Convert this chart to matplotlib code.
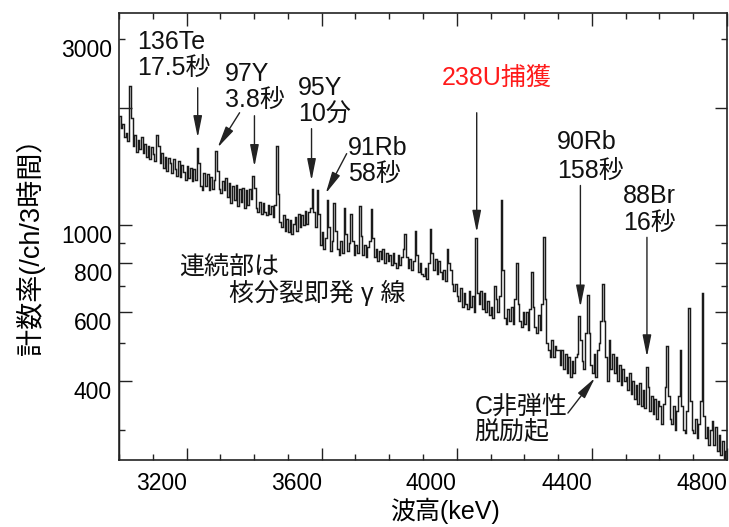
import numpy as np
import matplotlib.pyplot as plt
from matplotlib import ticker

plt.rcParams['font.family'] = ['Liberation Sans', 'Noto Sans CJK JP']

# counts per 5 keV channel, 3000 - 4800 keV
counts = [
    1900, 1780, 1820, 1680, 1720, 1640, 2270, 1880, 1600, 1700, 1540, 1650, 1570, 1680, 1530, 1620, 1500, 1600, 1480, 1590,
    1520, 1460, 1700, 1600, 1440, 1530, 1400, 1500, 1380, 1490, 1440, 1360, 1480, 1390, 1340, 1460, 1330, 1430, 1370, 1310,
    1420, 1320, 1400, 1300, 1390, 1310, 1580, 1440, 1260, 1230, 1360, 1260, 1350, 1230, 1330, 1240, 1310, 1550, 1380, 1240,
    1210, 1300, 1230, 1320, 1180, 1280, 1140, 1260, 1160, 1270, 1120, 1240, 1150, 1250, 1110, 1230, 1130, 1240, 1170, 1340,
    1250, 1110, 1080, 1150, 1070, 1140, 1080, 1060, 1130, 1070, 1120, 1050, 1130, 1600, 1200, 1020, 990, 1060, 970, 1040,
    960, 1030, 950, 1010, 1050, 970, 1070, 990, 1060, 1000, 1090, 1010, 1080, 1110, 1240, 1080, 990, 1230, 1070, 890,
    960, 870, 930, 1160, 990, 860, 910, 1140, 970, 870, 840, 910, 850, 1110, 950, 860, 900, 1070, 910, 840,
    890, 850, 1120, 940, 840, 890, 830, 880, 910, 1100, 930, 830, 870, 810, 860, 820, 870, 800, 850, 810,
    840, 790, 850, 800, 780, 840, 790, 830, 870, 950, 830, 780, 820, 770, 810, 970, 840, 760, 800, 750,
    740, 780, 730, 800, 980, 850, 770, 820, 750, 810, 760, 730, 770, 720, 870, 800, 770, 710, 680, 710,
    660, 640, 690, 620, 670, 630, 610, 680, 620, 660, 600, 926, 670, 630, 680, 610, 670, 600, 640, 590,
    620, 580, 700, 650, 600, 660, 1158, 770, 580, 560, 610, 570, 620, 560, 650, 800, 630, 570, 550, 600,
    560, 600, 540, 610, 760, 620, 550, 530, 590, 540, 630, 932, 650, 500, 480, 460, 510, 460, 490, 480,
    480, 440, 480, 430, 470, 420, 460, 410, 450, 420, 460, 470, 585, 510, 450, 430, 530, 662, 530, 440,
    420, 470, 410, 480, 500, 570, 707, 570, 460, 400, 510, 430, 470, 420, 460, 400, 440, 390, 430, 400,
    410, 380, 420, 370, 400, 360, 390, 350, 395, 345, 380, 340, 434, 385, 335, 365, 330, 360, 320, 355,
    345, 310, 350, 385, 490, 365, 320, 310, 345, 300, 335, 365, 480, 345, 300, 295, 335, 614, 355, 300,
    295, 320, 285, 310, 355, 670, 325, 285, 305, 275, 300, 315, 275, 305, 265, 290, 258, 280, 253, 265,
]
e_start = 3000
bin_width = 5
edges = e_start + bin_width * np.arange(len(counts) + 1)

x_major = [3200, 3600, 4000, 4400, 4800]
y_major = [400, 600, 800, 1000, 2000]
y_minor = [300, 500, 700, 900, 3000]
y_labeled = [400, 600, 800, 1000, 3000]

fig = plt.figure(figsize=(7.29, 5.27), dpi=100)
ax = fig.add_axes([119 / 729, 1 - 460 / 527, 608 / 729, 447 / 527])

ax.stairs(counts, edges, color='#1a1a1a', lw=1.05)

ax.set_yscale('log')
ax.set_xlim(3000, 4800)
ax.set_ylim(251, 3495)

ax.xaxis.set_major_locator(ticker.FixedLocator(x_major))
ax.xaxis.set_minor_locator(ticker.MultipleLocator(100))
ax.xaxis.set_major_formatter(ticker.FuncFormatter(lambda v, p: '%d' % v))
ax.yaxis.set_major_locator(ticker.FixedLocator(y_major))
ax.yaxis.set_minor_locator(ticker.FixedLocator(y_minor))
fmt = ticker.FuncFormatter(lambda v, p: '%d' % v if round(v) in y_labeled else '')
ax.yaxis.set_major_formatter(fmt)
ax.yaxis.set_minor_formatter(fmt)

ax.tick_params(which='both', direction='in', top=True, right=True,
               labelsize=16.5, width=1.0, color='#222222')
ax.tick_params(which='major', length=9)
ax.tick_params(which='minor', length=4.5)
ax.tick_params(axis='x', which='both', pad=9)
ax.tick_params(axis='y', which='both', pad=5)
plt.setp(ax.get_xticklabels(), ha='right')
plt.setp(ax.get_yticklabels(which='both'), va='top')

for sp in ax.spines.values():
    sp.set_linewidth(1.2)
    sp.set_color('#222222')

ax.set_xlabel('波高(keV)', fontsize=18, va='center')
ax.xaxis.set_label_coords(0.536, -0.114)
ax.set_ylabel('計数率(/ch/3時間）', fontsize=19.5, va='center')
ax.yaxis.set_label_coords(-0.145, 0.492)

# labels
tk = dict(fontsize=18, ha='left', va='center', color='#111111')
ax.text(3055, 2946, '136Te', **tk)
ax.text(3055, 2530, '17.5秒', **tk)
ax.text(3313, 2442, '97Y', **tk)
ax.text(3313, 2096, '3.8秒', **tk)
ax.text(3529, 2250, '95Y', **tk)
ax.text(3529, 1920, '10分', **tk)
ax.text(3677, 1581, '91Rb', **tk)
ax.text(3677, 1357, '58秒', **tk)
ax.text(3956, 2386, '238U捕獲', fontsize=18, ha='left', va='center', color='#ff1a1a')
ax.text(4296, 1638, '90Rb', **tk)
ax.text(4296, 1381, '158秒', **tk)
ax.text(4492, 1186, '88Br', **tk)
ax.text(4492, 1012, '16秒', **tk)
ax.text(3179, 777, '連続部は', **tk)
ax.text(3327, 671, '核分裂即発 γ 線', **tk)
ax.text(4053, 343, 'C非弾性', **tk)
ax.text(4053, 296, '脱励起', **tk)

# arrows: (tip, tail)
arrows = [
    ((3233, 1677), (3233, 2250)),
    ((3292, 1581), (3357, 1942)),
    ((3401, 1414), (3401, 1908)),
    ((3570, 1302), (3570, 1768)),
    ((3612, 1207), (3674, 1526)),
    ((4059, 960), (4059, 1942)),
    ((4366, 618), (4366, 1265)),
    ((4563, 461), (4563, 932)),
    ((4409, 407), (4329, 331)),
]
for tip, tail in arrows:
    ax.annotate('', xy=tip, xytext=tail,
                arrowprops=dict(arrowstyle='-|>,head_length=1.1,head_width=0.22',
                                lw=1.0, color='#222222', shrinkA=0, shrinkB=0,
                                mutation_scale=12))

fig.savefig('out.png', dpi=100)
